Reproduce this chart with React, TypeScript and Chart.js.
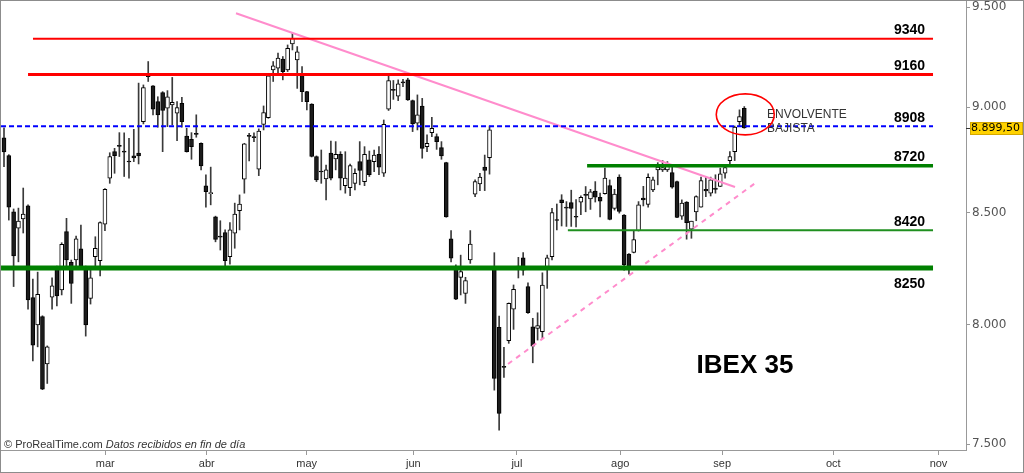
import React, { useEffect, useRef } from 'react';
import { Chart, registerables } from 'chart.js';

Chart.register(...registerables);

// ---- Data ----
const opens = [
  8852, 8767, 8505, 8430, 8472, 8533, 8119, 8000, 8036, 7833,
  8121, 8256, 8153, 8414, 8276, 8286, 8336, 8244, 8116, 8301,
  8283, 8448, 8661, 8786, 8815, 8788, 8741, 8766, 8779, 8930,
  9158, 9104, 9027, 9071, 8995, 9011, 8971, 9019, 8861, 8845,
  8873, 8826, 8625, 8589, 8482, 8393, 8410, 8301, 8407, 8510,
  8656, 8863, 8857, 8703, 8917, 8949, 9183, 9192, 9237, 9183,
  9313, 9233, 9162, 9076, 9015, 8763, 8694, 8658, 8779, 8752,
  8774, 8626, 8617, 8637, 8739, 8645, 8747, 8739, 8774, 8684,
  8990, 9086, 9054, 9123, 9134, 9032, 8922, 9006, 8810, 8877,
  8858, 8805, 8734, 8381, 8249, 8209, 8138, 8286, 8587, 8634,
  8713, 8758, 8253, 7990, 7823, 7932, 8069, 8249, 8296, 8168,
  7992, 7985, 7971, 8253, 8301, 8469, 8560, 8526, 8547, 8484,
  8549, 8585, 8564, 8601, 8572, 8589, 8627, 8521, 8666, 8490,
  8313, 8320, 8419, 8568, 8539, 8606, 8700, 8700, 8700, 8687,
  8645, 8485, 8550, 8425, 8505, 8526, 8609, 8591, 8614, 8622,
  8684, 8744, 8786, 8930, 8995,
];
const highs = [
  8900, 8772, 8518, 8522, 8615, 8537, 8201, 8232, 8040, 7910,
  8207, 8259, 8364, 8475, 8286, 8394, 8444, 8259, 8251, 8391,
  8459, 8612, 8781, 8802, 8877, 8876, 8850, 8893, 9118, 9109,
  9225, 9106, 9051, 9076, 9081, 9146, 9027, 9048, 8898, 8877,
  8963, 8828, 8677, 8713, 8485, 8464, 8422, 8455, 8545, 8583,
  8826, 8874, 8876, 8895, 9006, 9158, 9225, 9267, 9250, 9308,
  9367, 9300, 9200, 9078, 9017, 8766, 8794, 8723, 8837, 8834,
  8786, 8786, 8727, 8705, 8834, 8810, 8789, 8794, 8810, 8938,
  9158, 9131, 9134, 9137, 9142, 9035, 9060, 9043, 8866, 8951,
  8871, 8834, 8736, 8419, 8264, 8308, 8209, 8419, 8653, 8684,
  8770, 8909, 8319, 8039, 7904, 8096, 8175, 8298, 8319, 8185,
  8029, 8053, 8229, 8308, 8521, 8541, 8584, 8552, 8605, 8561,
  8579, 8622, 8609, 8645, 8592, 8708, 8653, 8609, 8677, 8492,
  8315, 8420, 8552, 8623, 8681, 8666, 8734, 8744, 8739, 8719,
  8647, 8560, 8552, 8462, 8579, 8666, 8666, 8666, 8677, 8708,
  8723, 8786, 8909, 8987, 9003,
];
const lows = [
  8715, 8467, 8168, 8278, 8408, 8069, 7846, 7906, 7725, 7751,
  8069, 8083, 8131, 8256, 8094, 8259, 8255, 7952, 8091, 8256,
  8215, 8419, 8637, 8684, 8763, 8669, 8661, 8739, 8728, 8919,
  9126, 8963, 8903, 8786, 8906, 8914, 8839, 8903, 8784, 8750,
  8855, 8700, 8526, 8537, 8368, 8331, 8249, 8268, 8339, 8422,
  8591, 8742, 8834, 8673, 8890, 8946, 9126, 9158, 9134, 9175,
  9283, 9092, 9027, 8987, 8761, 8645, 8637, 8560, 8653, 8700,
  8606, 8591, 8580, 8606, 8630, 8626, 8669, 8692, 8677, 8669,
  8984, 9038, 9032, 9100, 9033, 8882, 8890, 8755, 8786, 8858,
  8797, 8750, 8480, 8278, 8110, 8131, 8094, 8271, 8575, 8603,
  8603, 8680, 7723, 7558, 7776, 7921, 7981, 8206, 8219, 8050,
  7838, 7935, 7942, 8160, 8286, 8422, 8440, 8438, 8438, 8436,
  8492, 8505, 8516, 8550, 8481, 8587, 8468, 8513, 8499, 8241,
  8223, 8318, 8417, 8532, 8526, 8598, 8630, 8692, 8692, 8614,
  8478, 8470, 8380, 8384, 8464, 8526, 8575, 8578, 8591, 8622,
  8661, 8723, 8744, 8906, 8898,
];
const closes = [
  8785, 8526, 8305, 8462, 8495, 8109, 7913, 8134, 7727, 7906,
  8171, 8127, 8357, 8286, 8182, 8381, 8259, 8000, 8207, 8339,
  8455, 8609, 8763, 8767, 8811, 8784, 8737, 8756, 8766, 9096,
  9150, 8990, 8963, 8984, 9051, 9024, 8998, 8930, 8786, 8810,
  8869, 8719, 8598, 8593, 8379, 8389, 8283, 8422, 8495, 8541,
  8823, 8859, 8853, 8885, 8974, 9154, 9204, 9242, 9175, 9291,
  9341, 9274, 9076, 9027, 8763, 8653, 8690, 8700, 8661, 8774,
  8661, 8661, 8720, 8684, 8697, 8774, 8677, 8770, 8713, 8917,
  9131, 9082, 9114, 9119, 9035, 8919, 8963, 8802, 8826, 8898,
  8834, 8766, 8482, 8294, 8113, 8234, 8194, 8358, 8645, 8666,
  8697, 8890, 7772, 7626, 7819, 8094, 8156, 8259, 8241, 8053,
  7909, 7997, 8175, 8296, 8501, 8465, 8547, 8522, 8521, 8480,
  8572, 8581, 8597, 8572, 8554, 8661, 8470, 8587, 8507, 8264,
  8253, 8378, 8537, 8560, 8665, 8653, 8713, 8711, 8719, 8619,
  8479, 8545, 8455, 8462, 8575, 8650, 8602, 8653, 8609, 8681,
  8711, 8763, 8904, 8954, 8899.5,
];

const monthLabels = ['mar', 'abr', 'may', 'jun', 'jul', 'ago', 'sep', 'oct', 'nov'];
const monthPositions = [21.07, 42.17, 62.97, 85.15, 106.7, 128.2, 149.4, 172.5, 194.4];
const yTickValues = [7500, 8000, 8500, 9000, 9500];

const levelValues = [9340, 9160, 8908, 8720, 8420, 8250];
const levelLabels = ['9340', '9160', '8908', '8720', '8420', '8250'];
const levelStarts = [6.03, 5.0, -0.62, 121.3, 117.3, -0.62];
const levelEnd = 193.26;

const trendDown = [{ x: 48.26, y: 9469 }, { x: 152.07, y: 8620 }];
const trendUp = [{ x: 104.85, y: 7833 }, { x: 156.65, y: 8644 }];

const titleText = 'IBEX 35';
const titleAnchor = { x: 154.15, y: 7824 };
const noteLines = ['ENVOLVENTE', 'BAJISTA'];
const noteAnchorX = 158.73;
const noteAnchorY = [8963, 8895];
const circleAnchor = { x: 154.2, y: 8965 };
const creditMain = '© ProRealTime.com ';
const creditItalic = 'Datos recibidos en fin de día';

// ---- Styles ----
const levelStyles = [
  { color: '#ff0000', width: 2, dash: [] as number[], below: false },
  { color: '#ff0000', width: 3, dash: [] as number[], below: false },
  { color: '#0000ff', width: 2, dash: [5, 3], below: false },
  { color: '#008000', width: 3.5, dash: [] as number[], below: false },
  { color: '#1f8f1f', width: 2, dash: [] as number[], below: false },
  { color: '#008000', width: 5, dash: [] as number[], below: true },
];
const PINK = '#ff8ccc';

const fmtTick = (v: number) => {
  const t = Math.floor(v / 1000);
  const r = Math.round(v % 1000);
  return `${t}.${String(r).padStart(3, '0')}`;
};
const fmtPrice = (v: number) => {
  const whole = Math.floor(v);
  const dec = Math.round((v - whole) * 100);
  return `${fmtTick(whole)},${String(dec).padStart(2, '0')}`;
};

const annotPlugin = {
  id: 'annotations',
  afterDatasetsDraw(chart: any) {
    const { ctx, chartArea, scales } = chart;
    const x = scales.x;
    const y = scales.y;
    ctx.save();
    ctx.font = 'bold 14px "Liberation Sans", Arial, sans-serif';
    ctx.fillStyle = '#000';
    ctx.textAlign = 'right';
    ctx.textBaseline = 'middle';
    levelValues.forEach((v, i) => {
      const py = y.getPixelForValue(v) + (levelStyles[i].below ? 16 : -8);
      const px = x.getPixelForValue(levelEnd) - 8;
      ctx.fillText(levelLabels[i], px, py);
    });
    ctx.font = 'bold 26px "Liberation Sans", Arial, sans-serif';
    ctx.textAlign = 'center';
    ctx.fillText(titleText, x.getPixelForValue(titleAnchor.x), y.getPixelForValue(titleAnchor.y));
    ctx.font = '12px "Liberation Sans", Arial, sans-serif';
    ctx.fillStyle = '#333';
    ctx.textAlign = 'left';
    noteLines.forEach((t, i) => {
      ctx.fillText(t, x.getPixelForValue(noteAnchorX), y.getPixelForValue(noteAnchorY[i]));
    });
    ctx.beginPath();
    ctx.strokeStyle = '#ff0000';
    ctx.lineWidth = 1.6;
    ctx.ellipse(x.getPixelForValue(circleAnchor.x), y.getPixelForValue(circleAnchor.y), 29, 20.5, 0, 0, Math.PI * 2);
    ctx.stroke();
    ctx.fillStyle = '#333';
    ctx.font = '11px "Liberation Sans", Arial, sans-serif';
    ctx.textAlign = 'left';
    const cx = chartArea.left + 3;
    const cy = chartArea.bottom - 5;
    ctx.fillText(creditMain, cx, cy);
    const w = ctx.measureText(creditMain).width;
    ctx.font = 'italic 11px "Liberation Sans", Arial, sans-serif';
    ctx.fillText(creditItalic, cx + w, cy);
    ctx.restore();
  },
  afterDraw(chart: any) {
    const { ctx, chartArea, scales, width } = chart;
    const y = scales.y;
    const last = closes[closes.length - 1];
    const py = y.getPixelForValue(last);
    ctx.save();
    ctx.strokeStyle = '#333';
    ctx.lineWidth = 1;
    ctx.beginPath();
    ctx.moveTo(chartArea.right, Math.round(py) + 0.5);
    ctx.lineTo(chartArea.right + 4, Math.round(py) + 0.5);
    ctx.stroke();
    const bx = chartArea.right + 4;
    ctx.fillStyle = '#ffd200';
    ctx.fillRect(bx, Math.round(py) - 6, width - bx, 13);
    ctx.strokeStyle = '#d4a800';
    ctx.strokeRect(bx + 0.5, Math.round(py) - 5.5, width - bx - 1, 12);
    ctx.fillStyle = '#000';
    ctx.font = '11px "DejaVu Sans", sans-serif';
    ctx.textAlign = 'left';
    ctx.textBaseline = 'middle';
    ctx.fillText(fmtPrice(last), bx + 1, Math.round(py) + 0.5);
    ctx.restore();
  },
};

export default function App() {
  const ref = useRef<HTMLCanvasElement | null>(null);

  useEffect(() => {
    document.body.style.margin = '0';
    if (!ref.current) return;
    const bodies = opens.map((o, i) => ({ x: i, y: [o, closes[i]] }));
    const wicks = lows.map((l, i) => ({ x: i, y: [l, highs[i]] }));
    const bodyColors = opens.map((o, i) => (closes[i] >= o ? '#ffffff' : '#1c1c1c'));

    const levelSets = levelValues.map((v, i) => ({
      type: 'line' as const,
      data: [{ x: levelStarts[i], y: v }, { x: levelEnd, y: v }],
      borderColor: levelStyles[i].color,
      borderWidth: levelStyles[i].width,
      borderDash: levelStyles[i].dash,
      pointRadius: 0,
      fill: false,
      order: 0,
    }));

    const chart = new Chart(ref.current, {
      type: 'bar',
      data: {
        datasets: [
          ...levelSets,
          {
            type: 'line' as const,
            data: trendDown,
            borderColor: PINK,
            borderWidth: 2,
            pointRadius: 0,
            order: 0,
          },
          {
            type: 'line' as const,
            data: trendUp,
            borderColor: PINK,
            borderWidth: 2,
            borderDash: [5, 5],
            pointRadius: 0,
            order: 0,
          },
          {
            type: 'bar' as const,
            data: bodies as any,
            backgroundColor: bodyColors,
            borderColor: '#000000',
            borderWidth: 1,
            borderSkipped: false,
            barThickness: 4,
            minBarLength: 1,
            grouped: false,
            order: 1,
          },
          {
            type: 'bar' as const,
            data: wicks as any,
            backgroundColor: '#3a3a3a',
            borderWidth: 0,
            barThickness: 1,
            grouped: false,
            order: 2,
          },
        ] as any,
      },
      options: {
        animation: false,
        responsive: false,
        maintainAspectRatio: false,
        layout: { padding: 0 },
        plugins: { legend: { display: false }, tooltip: { enabled: false } },
        scales: {
          x: {
            type: 'linear',
            min: -0.624,
            max: 200.12,
            offset: false,
            afterBuildTicks: (s: any) => {
              s.ticks = monthPositions.map((v) => ({ value: v }));
            },
            afterFit: (s: any) => {
              s.height = 22;
              s.paddingLeft = 0;
              s.paddingRight = 0;
            },
            grid: { offset: false, drawOnChartArea: false, drawTicks: true, tickLength: 5, color: '#999' },
            border: { color: '#999' },
            ticks: {
              autoSkip: false,
              maxRotation: 0,
              padding: 2,
              color: '#333',
              font: { family: '"Liberation Sans", Arial, sans-serif', size: 11 },
              callback: (_v: any, i: number) => monthLabels[i],
            },
          },
          y: {
            type: 'logarithmic',
            position: 'right',
            min: 7477,
            max: 9532,
            afterBuildTicks: (s: any) => {
              s.ticks = yTickValues.map((v) => ({ value: v }));
            },
            afterFit: (s: any) => {
              s.width = 57;
              s.paddingTop = 0;
              s.paddingBottom = 0;
            },
            grid: { offset: false, drawOnChartArea: false, drawTicks: true, tickLength: 4, color: '#999' },
            border: { color: '#999' },
            ticks: {
              autoSkip: false,
              padding: 2,
              color: '#555',
              font: { family: '"DejaVu Sans", sans-serif', size: 12 },
              callback: (v: any) => fmtTick(Number(v)),
            },
          },
        },
      } as any,
      plugins: [annotPlugin],
    });
    return () => chart.destroy();
  }, []);

  return (
    <div style={{ width: 1022, height: 471, border: '1px solid #8c8c8c', background: '#fff' }}>
      <canvas ref={ref} width={1022} height={471} style={{ display: 'block' }} />
    </div>
  );
}
